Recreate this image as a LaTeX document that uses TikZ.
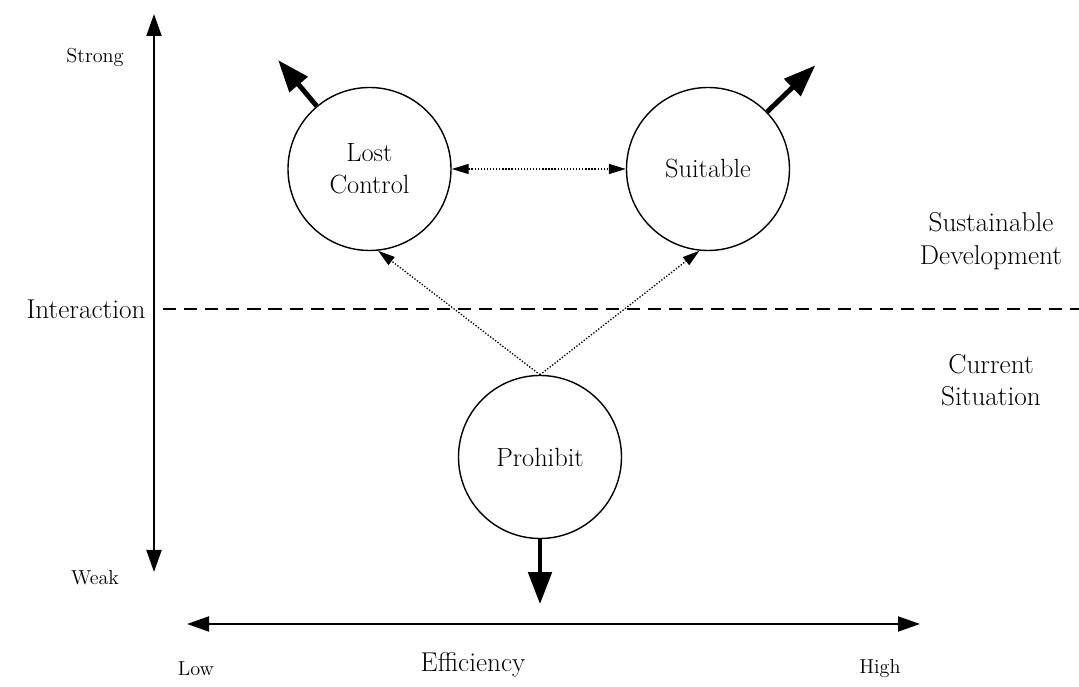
\documentclass[tikz,border=0pt]{standalone}
\usepackage{tikz}
\usetikzlibrary{calc,positioning,arrows.meta,shapes}
\tikzset{
		zustand/.style={
			circle, 
			draw=black, line width=0.8pt,
			minimum size=3.26cm, 
			align=center,
			font=\fontsize{15}{18}\selectfont},
		achse/.style={draw, line width=1.1pt,
			{Triangle[length=0.44cm, width=0.3cm]}-{Triangle[length=0.44cm, width=0.3cm]}},
		trend/.style={draw, line width=2.8pt, -{Triangle[length=0.64cm, width=0.46cm]}},
		bezug/.style={draw, densely dotted, line width=0.75pt},
		spitze/.style={arrows={-{Triangle[length=0.34cm, width=0.2cm]}}},
		doppelspitze/.style={arrows={{Triangle[length=0.34cm, width=0.2cm]}-{Triangle[length=0.34cm, width=0.2cm]}}},
		klein/.style={font=\fontsize{11.5}{13}\selectfont},
		gross/.style={font=\fontsize{15.5}{18.5}\selectfont, align=center},
	}
\begin{document}
\begin{tikzpicture}[
			every node/.style = {inner sep=1pt},
			]
			\useasboundingbox (0,0) rectangle (21.58,13.74);
			
			% Achsen
			\coordinate (yo) at (3.08,13.46);
			\coordinate (yu) at (3.08,2.30);
			\coordinate (xl) at (3.74,1.26);
			\coordinate (xr) at (18.40,1.26);
			\draw[achse] (yu) -- (yo);
			\draw[achse] (xl) -- (xr);
			
			\node[klein] (strong) at (1.90,12.60) {Strong};
			\node[klein] (weak) at (1.90,2.18) {Weak};
			\node[klein] (low) at (3.92,0.36) {Low};
			\node[klein] (high) at (17.60,0.36) {High};
			\node[gross] (eff) at (9.46,0.44) {Efficiency};
			
			% Trennlinie
			\node[gross] (inter) at (1.72,7.56) {Interaction};
			\coordinate (dl) at (3.26,7.56);
			\coordinate (dr) at (21.58,7.56);
			\draw[line width=0.8pt, dash pattern=on 7.5pt off 4.5pt] (dl) -- (dr);
			
			\node[gross] (sust) at (19.82,8.92) {Sustainable\\Development};
			\node[gross] (curr) at (19.82,6.14) {Current\\Situation};
			
			% Zustaende
			\node[zustand] (lost) at (7.39,10.36) {Lost\\Control};
			\node[zustand] (suit) at (14.16,10.36) {Suitable};
			\node[zustand] (prohib) at (10.80,4.60) {Prohibit};
			
			\draw[bezug, doppelspitze] (lost) -- (suit);
			\draw[bezug, spitze] (prohib.north) -- (lost.-84);
			\draw[bezug, spitze] (prohib.north) -- (suit.-96);
			
			\draw[trend] (lost.130) -- ++(130:1.2);
			\draw[trend] (suit.44) -- ++(44:1.34);
			\draw[trend] (prohib.south) -- ++(0,-1.3);
			\end{tikzpicture}
\end{document}
